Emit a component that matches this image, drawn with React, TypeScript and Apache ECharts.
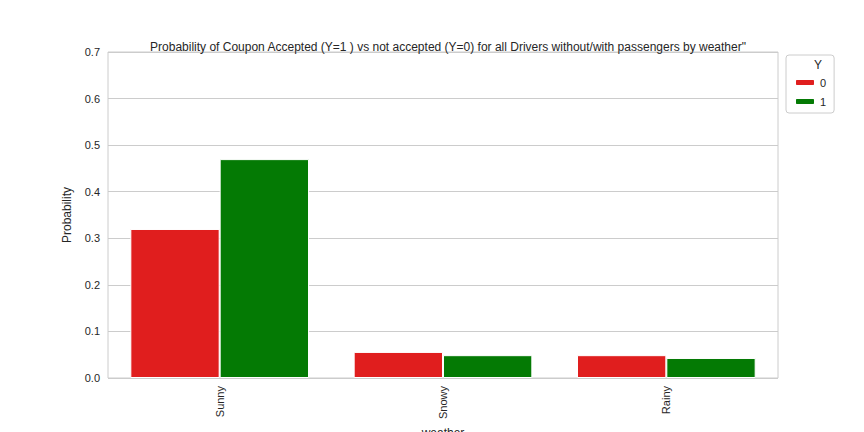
import React, { useEffect, useRef } from "react";
import * as echarts from "echarts";

const categories = ["Sunny", "Snowy", "Rainy"];
const y0 = [0.32, 0.056, 0.049];
const y1 = [0.47, 0.049, 0.043];

export default function App() {
  const ref = useRef<HTMLDivElement>(null);
  useEffect(() => {
    const chart = echarts.init(ref.current!, null, { renderer: "svg" });
    const font = "Liberation Sans";
    chart.setOption({
      animation: false,
      textStyle: { fontFamily: font },
      title: {
        text: 'Probability of Coupon Accepted (Y=1 ) vs not accepted (Y=0) for all Drivers without/with passengers by weather"',
        left: 443, textAlign: "center", top: 36,
        textStyle: { fontSize: 12, fontWeight: "normal", color: "#262626", fontFamily: font },
      },
      legend: {
        left: 786, top: 55, orient: "vertical",
        itemWidth: 20, itemHeight: 7, itemGap: 8,
        borderColor: "#ccc", borderWidth: 1, borderRadius: 3, padding: [22, 8, 6, 8],
        textStyle: { fontSize: 11, color: "#262626", fontFamily: font },
        data: ["0", "1"],
      },
      graphic: [{ type: "text", left: 814, top: 59, style: { text: "Y", fontSize: 12, fill: "#262626", fontFamily: font } }],
      grid: { left: 108, right: 86, top: 52, bottom: 54, show: true, borderColor: "#ccc", borderWidth: 1, outerBoundsMode: "none", containLabel: false },
      xAxis: {
        type: "category", data: categories, name: "weather", nameLocation: "middle", nameGap: 47,
        nameTextStyle: { fontSize: 12, color: "#262626" },
        axisLine: { show: false }, axisTick: { show: false },
        axisLabel: { rotate: 90, fontSize: 11, color: "#262626" },
      },
      yAxis: {
        type: "value", min: 0, max: 0.7, interval: 0.1,
        name: "Probability", nameLocation: "middle", nameGap: 35,
        nameTextStyle: { fontSize: 12, color: "#262626" },
        axisLabel: { fontSize: 11, color: "#262626", formatter: (v: number) => v.toFixed(1) },
        splitLine: { lineStyle: { color: "#ccc" } },
      },
      series: [
        { name: "0", type: "bar", data: y0, barGap: "0%", barCategoryGap: "20%", itemStyle: { color: "#e01e1e", borderColor: "#fff", borderWidth: 1 } },
        { name: "1", type: "bar", data: y1, itemStyle: { color: "#047a04", borderColor: "#fff", borderWidth: 1 } },
      ],
    });
    return () => chart.dispose();
  }, []);
  return <div ref={ref} style={{ width: 864, height: 432, position: "absolute", left: 0, top: 0 }} />;
}
